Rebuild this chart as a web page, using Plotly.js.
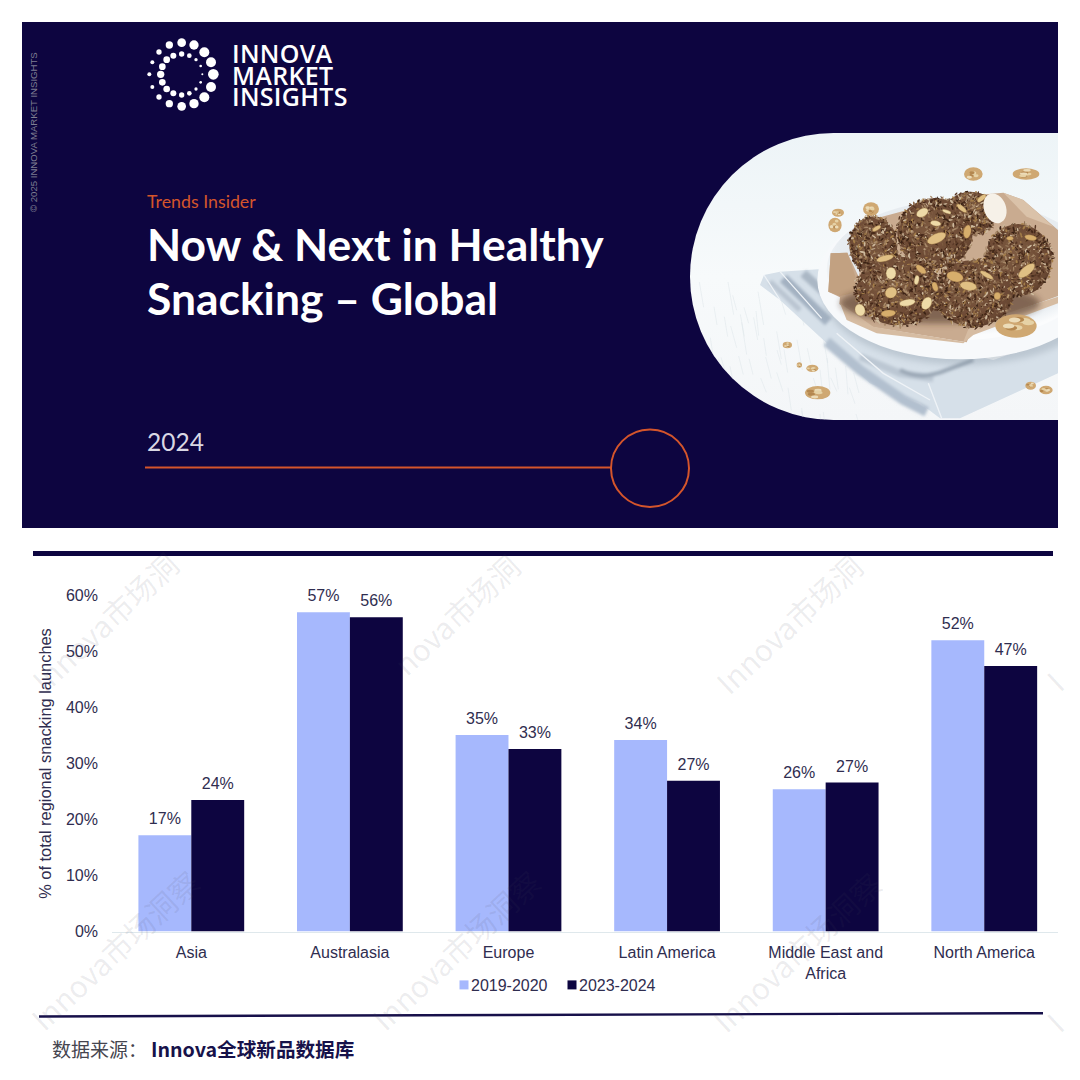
<!DOCTYPE html>
<html><head><meta charset="utf-8">
<script src="https://cdn.plot.ly/plotly-3.0.1.min.js"></script>
<style>html,body{margin:0;padding:0;background:#fff}#c{width:1080px;height:1080px}</style>
</head><body><div id="c"></div>
<script>
const categories = ['Asia','Australasia','Europe','Latin America','Middle East and<br>Africa','North America'];
const series2019 = [17.2,57.0,35.1,34.2,25.4,52.0];
const series2023 = [23.5,56.1,32.6,26.9,26.6,47.4];
const labels2019 = ['17%','57%','35%','34%','26%','52%'];
const labels2023 = ['24%','56%','33%','27%','27%','47%'];
const yTicks = [0,10,20,30,40,50,60];
const yTickLabels = ['0%','10%','20%','30%','40%','50%','60%'];

const NAVY='#0d0540', LIGHT='#a6b8fd', ORANGE='#d4552b', TXT='#2f2d4f';
const W=1080,H=1080;
const px=x=>x/W, py=y=>1-y/H;
const rect=(x0,y0,x1,y1,c)=>({type:'rect',xref:'paper',yref:'paper',x0:px(x0),x1:px(x1),y0:py(y0),y1:py(y1),fillcolor:c,line:{width:0},layer:'below'});
const note=(text,x,y,size,color,opt={})=>({text,x:px(x),y:py(y),xref:'paper',yref:'paper',showarrow:false,xanchor:'left',yanchor:'middle',align:'left',borderpad:0,
  font:{family:opt.family||'Lato',size,color,weight:opt.weight||400}});

// ---------- decorative photo sketch ----------
const h=i=>{const s=Math.sin(i*12.9898+4.1)*43758.5453;return s-Math.floor(s);};
function photo(){
  let s='<svg xmlns="http://www.w3.org/2000/svg" width="1104" height="861" viewBox="690 133 368 287">';
  s+='<defs><clipPath id="k"><path d="M1058 133H833.5A143.5 143.5 0 0 0 833.5 420H1058Z"/></clipPath>'
   +'<linearGradient id="bg" x1="0" y1="0" x2="0" y2="1"><stop offset="0" stop-color="#edf4f7"/><stop offset=".5" stop-color="#f7fafb"/><stop offset="1" stop-color="#f4f6f8"/></linearGradient>'
   +'<radialGradient id="b" cx=".45" cy=".42" r=".7"><stop offset="0" stop-color="#7d5a40"/><stop offset=".75" stop-color="#6a4833"/><stop offset="1" stop-color="#4a3021"/></radialGradient>'
   +'<radialGradient id="pl" cx=".5" cy=".42" r=".55"><stop offset="0" stop-color="#d9e0e5"/><stop offset=".85" stop-color="#e8edf1"/><stop offset="1" stop-color="#fbfcfd"/></radialGradient>'
   +'<filter id="s" x="-5%" y="-5%" width="110%" height="110%"><feGaussianBlur stdDeviation="0.55"/></filter><filter id="m" x="-10%" y="-10%" width="120%" height="120%"><feGaussianBlur stdDeviation="4"/></filter><filter id="l" x="-20%" y="-20%" width="140%" height="140%"><feGaussianBlur stdDeviation="9"/></filter></defs>';
  s+='<g clip-path="url(#k)"><rect x="690" y="133" width="368" height="287" fill="url(#bg)"/><g filter="url(#s)"><g transform="translate(760 170) scale(.33333)">';
  // wood cracks
  for(let i=0;i<60;i++){const x=-190+h(i)*480,y=330+h(i+50)*410;s+=`<path d="M${x.toFixed(0)} ${y.toFixed(0)}l${(6+h(i+9)*14).toFixed(0)} ${(30+h(i+7)*70).toFixed(0)}" stroke="#dde4e9" stroke-width="1.5" fill="none"/>`;}
  // napkin
  s+='<path d="M0 345L12 315L60 305L175 298L400 500L700 570L894 500V610L600 745H540L480 700L330 640L190 510L60 390Z" fill="#d6e0e9"/>';
  s+='<g filter="url(#m)" fill="none">'
   +'<path d="M70 325L205 455" stroke="#a3b1c1" stroke-width="30"/>'
   +'<path d="M130 310L240 410" stroke="#aab7c5" stroke-width="26"/>'
   +'<path d="M30 335L120 420" stroke="#bac5d1" stroke-width="16"/>'
   +'<path d="M200 515L300 600L430 690L500 725" stroke="#b2c0cf" stroke-width="30"/>'
   +'<path d="M300 560L420 610L520 625" stroke="#bcc7d3" stroke-width="22"/>'
   +'<path d="M420 600C460 620 500 625 560 600L640 570" stroke="#98a5b3" stroke-width="12"/>'
   +'</g>';
  s+='<path d="M12 315L60 390M60 305L185 445M230 490L370 610L510 690M505 640L545 745" stroke="#eff3f7" stroke-width="4" fill="none"/>';
  // plate
  s+='<ellipse cx="610" cy="370" rx="420" ry="215" fill="#7f8d9b" opacity=".3" filter="url(#l)"/>';
  s+='<ellipse cx="600" cy="330" rx="428" ry="238" fill="#f7f9fb"/><ellipse cx="600" cy="300" rx="400" ry="210" fill="url(#pl)"/>';
  // paper
  s+='<path d="M205 365L212 250L262 248L296 320L330 150L590 80L730 68L790 90L894 180V378L640 470L620 517L340 472L300 450L238 402L240 382Z" fill="#c9ab90"/>';
  s+='<path d="M205 365L212 250L262 248L290 330L280 370L240 378Z" fill="#c2a181"/>';
  s+='<path d="M240 400L340 470L610 515L630 465L894 380V400L640 495L610 520L350 490L260 450Z" fill="#d6bca2"/>';
  s+='<path d="M730 68L790 90L880 170L800 140Z" fill="#dac2a9"/>';
  s+='<ellipse cx="540" cy="400" rx="300" ry="60" fill="#3a2213" opacity=".5" filter="url(#l)"/>';
  // balls [cx,cy,rx,ry]
  const balls=[[632,130,78,65],[340,225,72,86],[775,270,100,108],[525,190,113,106],[640,370,120,100],[415,360,127,106]];
  let n=0;
  balls.forEach(b=>{
    s+=`<ellipse cx="${b[0]}" cy="${b[1]}" rx="${b[2]}" ry="${b[3]}" fill="url(#b)"/>`;
    const cnt=Math.round(b[2]*6);
    for(let i=0;i<cnt;i++){n++;
      const a=h(n)*6.283,r=Math.sqrt(h(n+300))*1.05,x=b[0]+Math.cos(a)*r*b[2],y=b[1]+Math.sin(a)*r*b[3],
        rx=2+h(n+40)*6,ry=1.2+h(n+70)*2,
        c=['#8f7054','#46291a','#a88a6a','#583826','#cdb99d','#3b2416','#7e5d42','#a37d49'][n%8];
      s+=`<ellipse cx="${x.toFixed(0)}" cy="${y.toFixed(0)}" rx="${rx.toFixed(1)}" ry="${ry.toFixed(1)}" fill="${c}" transform="rotate(${Math.round(h(n+90)*180)} ${x.toFixed(0)} ${y.toFixed(0)})"/>`;
    }
  });
  // oat flakes [x,y,rx,ry,angle]
  [[530,205,30,14,-25],[487,128,19,12,-30],[622,185,11,20,10],[800,302,30,13,-40],[393,310,15,18,0],[483,298,18,9,40],[393,368,18,16,-30],[442,398,24,10,-10],[585,320,25,15,15],[625,348,25,13,10],[300,420,15,18,-20],[385,430,22,10,-5],[375,265,26,9,-15],[527,160,16,8,10],[812,203,18,8,10],[680,315,22,7,30],[500,400,20,14,-60],[712,378,10,11,0],[350,175,14,6,-30],[470,330,7,14,10],[525,350,8,14,-20],[605,115,18,7,40],[560,125,14,5,20],[750,205,10,6,0],[665,85,16,7,-40]].forEach((f,i)=>{
    s+=`<ellipse cx="${f[0]}" cy="${f[1]}" rx="${f[2]}" ry="${f[3]}" fill="${['#e0c084','#eedba8','#d7ae6c'][i%3]}" stroke="#8f6a3a" stroke-width="1" transform="rotate(${f[4]} ${f[0]} ${f[1]})"/>`;
  });
  s+='<ellipse cx="705" cy="115" rx="33" ry="46" fill="#f6f1e8" transform="rotate(-20 705 115)"/>';
  // walnuts [x,y,rx,ry]
  [[640,12,28,20],[798,12,40,17],[333,117,24,20],[234,128,18,12],[225,165,20,22],[768,468,62,35],[82,525,14,10],[157,595,18,11],[118,585,8,8],[173,668,38,20],[812,647,16,12],[858,660,20,13]].forEach((w,i)=>{
    s+=`<ellipse cx="${w[0]}" cy="${w[1]}" rx="${w[2]}" ry="${w[3]}" fill="#cfa872"/>`;
    for(let j=0;j<7;j++){const a=h(i*7+j)*6.28,q=h(i*3+j+20)*.7;s+=`<ellipse cx="${(w[0]+Math.cos(a)*w[2]*q).toFixed(0)}" cy="${(w[1]+Math.sin(a)*w[3]*q).toFixed(0)}" rx="${(w[2]*.28).toFixed(1)}" ry="${(w[3]*.22).toFixed(1)}" fill="${['#e6d2a6','#b4874f','#ecdcb8'][j%3]}"/>`;}
  });
  s+='</g></g></g></svg>';
  return 'data:image/svg+xml;charset=utf-8,'+encodeURIComponent(s);
}
// logo dots, in a 270-unit box
const logoDots=[[125,38,13],[162,45,14],[193,67,15],[213,97,15],[220,133,16],[213,171,15],[193,202,15],[162,221,14],[125,229,13],[88,221,11],[57,201,8],[37,171,6],[28,133,6],[37,97,6],[57,66,8],[88,45,11],
 [125,72,8],[148,77,7],[168,89,5],[182,108,4],[187,133,3],[182,157,4],[168,177,5],[148,190,7],[125,195,8],[100,190,9],[80,177,10],[67,157,10],[62,133,11],[67,110,10],[80,89,10],[100,77,9]];
function logo(){
  let s='<svg xmlns="http://www.w3.org/2000/svg" width="360" height="360" viewBox="0 0 270 270">';
  logoDots.forEach(d=>{s+=`<circle cx="${d[0]}" cy="${d[1]}" r="${d[2]}" fill="#fff"/>`;});
  s+='</svg>';
  return 'data:image/svg+xml;charset=utf-8,'+encodeURIComponent(s);
}

// ---------- watermarks: [text, centre x, centre y] ----------
const wmColor='rgba(70,70,90,0.10)';
const wm=[['Innova市场洞',104,622],['nova市场洞',456,614],['Innova市场洞',788,624],
          ['Innova市场洞察',114,950],['Innova市场洞察',455,950],['Innova市场洞察',796,952],
          ['I',1054,681],['I',1054,1022]];

const shapes=[
  rect(22,22,1058,528,NAVY),
  rect(33,551,1053,556,NAVY),
  {type:'line',xref:'paper',yref:'paper',x0:px(39),x1:px(1043),y0:py(1016.5),y1:py(1013.2),line:{color:'#17104a',width:2.4}},
  {type:'line',xref:'paper',yref:'paper',x0:px(145),x1:px(611),y0:py(467.5),y1:py(467.5),line:{color:ORANGE,width:2}},
  {type:'circle',xref:'paper',yref:'paper',x0:px(611),x1:px(689),y0:py(507),y1:py(429.5),line:{color:ORANGE,width:2},fillcolor:'rgba(0,0,0,0)'}
];
const annotations=[
  ...wm.map(w=>({text:w[0],x:px(w[1]),y:py(w[2]),xref:'paper',yref:'paper',showarrow:false,textangle:-43,xanchor:'center',yanchor:'middle',font:{family:'Noto Sans CJK SC',size:30,color:wmColor}})),
  note('INNOVA<br>MARKET<br>INSIGHTS',231,86,25,'#fff',{family:'Open Sans',weight:600}),
  note('Trends Insider',146,201,17.8,ORANGE),
  note('Now &amp; Next in Healthy',146,244,44.4,'#fff',{weight:700}),
  note('Snacking – Global',146,297,44.4,'#fff',{weight:700}),
  note('2024',146,442,24.5,'#d9d8e4'),
  {text:'© 2025 INNOVA MARKET INSIGHTS',x:px(33),y:py(132),xref:'paper',yref:'paper',showarrow:false,textangle:-90,xanchor:'center',yanchor:'middle',font:{family:'Liberation Sans',size:9.6,color:'#7f7f92'}},
  note('数据来源：',51,1048,19,'#45454f',{family:'Noto Sans CJK SC'}),
  note('Innova全球新品数据库',150,1048,19.6,'#17124a',{family:'Noto Sans CJK SC',weight:700})
];

const barFont={family:'Liberation Sans',size:16,color:TXT};
const traces=[
 {type:'bar',name:'2019-2020',x:categories,y:series2019,text:labels2019,textposition:'outside',textangle:0,cliponaxis:false,constraintext:'none',textfont:barFont,marker:{color:LIGHT,line:{width:0}},hoverinfo:'skip'},
 {type:'bar',name:'2023-2024',x:categories,y:series2023,text:labels2023,textposition:'outside',textangle:0,cliponaxis:false,constraintext:'none',textfont:barFont,marker:{color:NAVY,line:{width:0}},hoverinfo:'skip'}
];
const layout={
  width:W,height:H,margin:{l:0,r:0,t:0,b:0},paper_bgcolor:'#fff',plot_bgcolor:'rgba(0,0,0,0)',
  barmode:'group',bargap:0.333,bargroupgap:0,
  font:{family:'Liberation Sans',size:16,color:TXT},
  xaxis:{domain:[px(112),px(1058)],range:[-0.5,5.465],type:'category',categoryorder:'array',categoryarray:categories,fixedrange:true,showgrid:false,zeroline:false,showline:true,linecolor:'#dfe8ec',linewidth:1.5,ticks:'',tickangle:0,automargin:false,ticklabelstandoff:6,tickfont:{family:'Liberation Sans',size:16,color:TXT}},
  yaxis:{domain:[py(931.5),py(595.5)],range:[0,60],tickvals:yTicks,ticktext:yTickLabels,showgrid:false,zeroline:false,showline:false,ticks:'',ticklabelstandoff:13,fixedrange:true,automargin:false,
    tickfont:{family:'Liberation Sans',size:16,color:TXT},
    title:{text:'% of total regional snacking launches',standoff:10,font:{family:'Liberation Sans',size:16.4,color:TXT}}},
  legend:{orientation:'h',x:px(448),xanchor:'left',y:py(985),yanchor:'middle',bgcolor:'rgba(0,0,0,0)',font:{family:'Liberation Sans',size:16,color:TXT},traceorder:'normal',itemwidth:30,itemclick:false,itemdoubleclick:false},
  shapes,annotations,
  images:[
   {source:photo(),xref:'paper',yref:'paper',x:px(690),y:py(133),sizex:368/W,sizey:287/H,xanchor:'left',yanchor:'top',sizing:'stretch',layer:'above'},
   {source:logo(),xref:'paper',yref:'paper',x:px(140),y:py(30),sizex:90/W,sizey:90/H,xanchor:'left',yanchor:'top',sizing:'stretch',layer:'above'}
  ]
};
Plotly.newPlot('c',traces,layout,{displayModeBar:false,staticPlot:true}).then(()=>{
  // raise the bar labels to the reference's gap
  document.querySelectorAll('.bartext').forEach(t=>{
    t.setAttribute('transform','translate(0,-5) '+(t.getAttribute('transform')||''));
  });
  // tighten the legend entries: small swatch right next to its label, fixed pitch
  document.querySelectorAll('.legend .traces').forEach((t,i)=>{
    const m=/translate\(([^,]+),\s*([^)]+)\)/.exec(t.getAttribute('transform')||'');
    const yy=m?m[2]:0;
    t.setAttribute('transform',`translate(${i*108},${yy})`);
    t.querySelectorAll('.legendpoints path').forEach(p=>{ if(p.getAttribute('d')) p.setAttribute('transform','translate(16,0) scale(.75)'); });
    const tx=t.querySelector('.legendtext');
    if(tx){tx.setAttribute('x','23');tx.querySelectorAll('tspan').forEach(q=>q.setAttribute('x','23'));}
  });
  // the logo wordmark sets its three lines tighter than the library's default line height
  document.querySelectorAll('.annotation-text').forEach(t=>{
    if(!t.textContent.startsWith('INNOVA')) return;
    t.style.letterSpacing='0.3px';
    t.querySelectorAll('tspan.line').forEach((l,i)=>l.setAttribute('dy',(i*21.5)+'px'));
  });
});
</script></body></html>
